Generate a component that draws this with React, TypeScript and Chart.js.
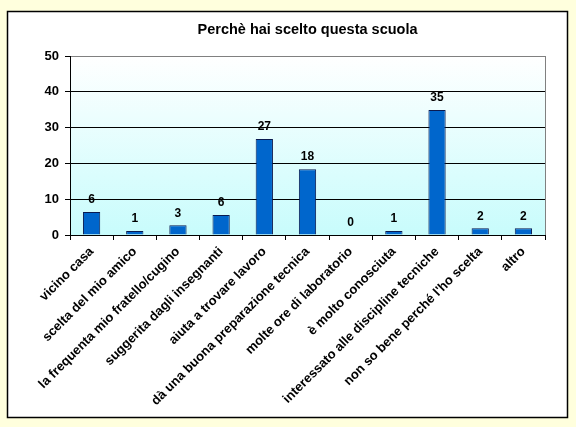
import { useEffect, useRef } from "react";
import { Chart, Plugin } from "chart.js/auto";

const titleText = "Perchè hai scelto questa scuola";

const categories = [
  "vicino casa",
  "scelta del mio amico",
  "la frequenta mio fratello/cugino",
  "suggerita dagli insegnanti",
  "aiuta a trovare lavoro",
  "dà una buona preparazione tecnica",
  "molte ore di laboratorio",
  "è molto conosciuta",
  "interessato alle discipline tecniche",
  "non so bene perché l'ho scelta",
  "altro",
];

// bar heights (labels show them rounded)
const values = [6.4, 1.1, 2.7, 5.6, 26.8, 18.4, 0, 1.1, 34.9, 1.9, 1.9];

const yTicks = [0, 10, 20, 30, 40, 50];

const FONT = "'Liberation Sans', Arial, sans-serif";

function App() {
  const chartRef = useRef<HTMLCanvasElement>(null);

  useEffect(() => {
    document.body.style.margin = "0";
    if (!chartRef.current) return;
    const ctx = chartRef.current.getContext("2d");
    if (!ctx) return;

    const frame: Plugin<"bar"> = {
      id: "frame",
      beforeDraw(chart) {
        const c = chart.ctx;
        const { top, bottom, left, right } = chart.chartArea;
        c.save();
        c.fillStyle = "#FFFFDD";
        c.fillRect(0, 0, chart.width, chart.height);
        c.fillStyle = "#FFFFFF";
        c.fillRect(7, 11, 561, 407);
        c.strokeStyle = "#000000";
        c.lineWidth = 1.5;
        c.strokeRect(7.5, 11.5, 560, 406);
        const g = c.createLinearGradient(0, top, 0, bottom);
        g.addColorStop(0, "#FFFFFF");
        g.addColorStop(1, "#C8FCFC");
        c.fillStyle = g;
        c.fillRect(left, top, right - left, bottom - top);
        c.fillStyle = "#000000";
        c.font = `bold 14.5px ${FONT}`;
        c.textAlign = "center";
        c.textBaseline = "middle";
        c.fillText(titleText, (left + right) / 2, 30);
        c.restore();
      },
      afterDraw(chart) {
        const c = chart.ctx;
        const { top, bottom, right } = chart.chartArea;
        c.save();
        c.strokeStyle = "#808080";
        c.lineWidth = 1;
        c.beginPath();
        c.moveTo(Math.round(right) + 0.5, top);
        c.lineTo(Math.round(right) + 0.5, bottom);
        c.stroke();
        c.restore();
      },
      afterDatasetsDraw(chart) {
        const c = chart.ctx;
        const meta = chart.getDatasetMeta(0);
        c.save();
        c.fillStyle = "#000000";
        c.font = `bold 12px ${FONT}`;
        c.textAlign = "center";
        c.textBaseline = "bottom";
        meta.data.forEach((bar: any, i: number) => {
          c.fillText(String(Math.round(values[i])), bar.x, bar.y - 6);
        });
        c.restore();
      },
    };

    const chart = new Chart(ctx, {
      type: "bar",
      data: {
        labels: categories,
        datasets: [
          {
            data: values,
            backgroundColor: "#0066CC",
            borderColor: "#0A1A50",
            borderWidth: 1,
            categoryPercentage: 1,
            barPercentage: 0.4,
          },
        ],
      },
      options: {
        responsive: false,
        animation: false,
        layout: { padding: { left: 0, top: 56, right: 31, bottom: 0 } },
        plugins: {
          legend: { display: false },
          title: { display: false },
          tooltip: { enabled: false },
        },
        scales: {
          x: {
            afterFit: (s: any) => {
              s.height = 192;
            },
            grid: {
              offset: true,
              drawOnChartArea: false,
              drawTicks: true,
              tickLength: 5,
              color: "#000000",
            },
            border: { color: "#000000", width: 1 },
            ticks: {
              autoSkip: false,
              maxRotation: 45,
              minRotation: 45,
              color: "#000000",
              padding: 4,
              font: { family: FONT, size: 13, weight: "bold" },
            },
          },
          y: {
            min: 0,
            max: 50,
            afterFit: (s: any) => {
              s.width = 70;
            },
            afterBuildTicks: (s: any) => {
              s.ticks = yTicks.map((v) => ({ value: v }));
            },
            grid: {
              color: (ctx: any) =>
                ctx.tick && ctx.tick.value === 50 ? "#808080" : "#000000",
              tickColor: "#000000",
              tickLength: 5,
              lineWidth: 1,
            },
            border: { color: "#000000", width: 1 },
            ticks: {
              color: "#000000",
              padding: 6,
              font: { family: FONT, size: 13, weight: "bold" },
            },
          },
        },
      },
      plugins: [frame],
    });

    return () => {
      chart.destroy();
    };
  }, []);

  return (
    <div style={{ width: 576, height: 427 }}>
      <canvas ref={chartRef} width="576" height="427" style={{ display: "block" }} />
    </div>
  );
}

export default App;
